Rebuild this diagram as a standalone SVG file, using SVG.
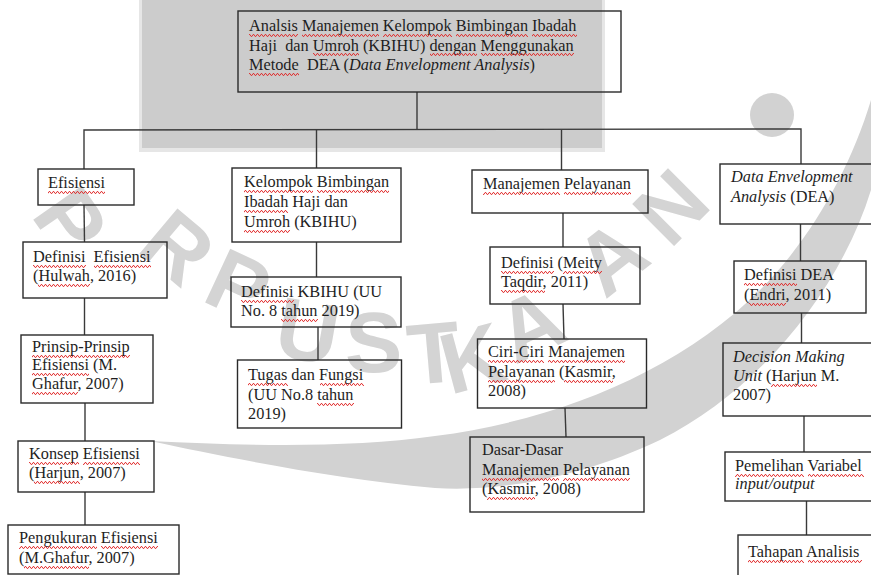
<svg xmlns="http://www.w3.org/2000/svg" width="871" height="575" viewBox="0 0 871 575">
<defs>
<pattern id="wavy" patternUnits="userSpaceOnUse" x="0" y="0" width="4" height="3">
<path d="M0,2.4 L1,0.6 L2,0.6 L3,2.4 L4,2.4" fill="none" stroke="#e02525" stroke-width="0.9"/>
</pattern>
</defs>
<style>
.box{fill:none;stroke:#2a2a2a;stroke-width:1.4}
.ln{fill:none;stroke:#3a3a3a;stroke-width:1.4}
.t{font-family:"Liberation Serif","Times New Roman",serif;font-size:16.3px;fill:#1e1e1e;white-space:pre}
.i{font-style:italic}
.sq{fill:url(#wavy)}
.wm{fill:#d2d2d2}
.wt{font-family:"Liberation Sans",Arial,sans-serif;font-weight:bold;font-size:86px;fill:#d4d4d4}
</style>
<rect x="0" y="0" width="871" height="575" fill="#ffffff"/>
<g id="watermark">
<path class="wm" d="M150,441 C250,446 350,448 435,436 C560,420 680,370 760,290 C810,240 850,170 871,100 L871,190 C840,290 760,390 660,440 C580,478 500,492 435,488 C330,478 230,458 150,441 Z"/>
<circle class="wm" cx="772" cy="115" r="22"/>
<text class="wt" transform="translate(30,215) rotate(55)">P</text>
<text class="wt" transform="translate(135,250) rotate(40)">R</text>
<text class="wt" transform="translate(200,300) rotate(25)">P</text>
<text class="wt" transform="translate(272,355) rotate(10)">U</text>
<text class="wt" transform="translate(345,372) rotate(0)">S</text>
<text class="wt" transform="translate(410,385) rotate(-5)">T</text>
<text class="wt" transform="translate(450,395) rotate(-15)">K</text>
<text class="wt" transform="translate(515,365) rotate(-25)">A</text>
<text class="wt" transform="translate(605,300) rotate(-38)">A</text>
<text class="wt" transform="translate(670,250) rotate(-45)">N</text>
</g>
<rect x="139" y="0" width="466" height="152" fill="#e6e6e6"/>
<rect x="142" y="0" width="460" height="148" fill="#cccccc"/>
<g id="connectors">
<line class="ln" x1="417" y1="92" x2="417" y2="130"/>
<polyline class="ln" points="84,169 84,130 801,129 801,164"/>
<line class="ln" x1="316.5" y1="130" x2="316.5" y2="168"/>
<line class="ln" x1="561.5" y1="130" x2="561.5" y2="170"/>
<line class="ln" x1="84" y1="205" x2="84.5" y2="242"/>
<line class="ln" x1="84.5" y1="298" x2="84.5" y2="335"/>
<line class="ln" x1="85" y1="403" x2="85" y2="441"/>
<line class="ln" x1="85" y1="492" x2="85" y2="525"/>
<line class="ln" x1="316.5" y1="242" x2="316.5" y2="277"/>
<line class="ln" x1="318" y1="327" x2="318" y2="360"/>
<line class="ln" x1="563" y1="213" x2="563" y2="247"/>
<line class="ln" x1="563" y1="304" x2="564" y2="339"/>
<line class="ln" x1="565" y1="408" x2="566" y2="437"/>
<line class="ln" x1="800.5" y1="224" x2="800.5" y2="261"/>
<line class="ln" x1="801.5" y1="313" x2="801.5" y2="343"/>
<line class="ln" x1="804" y1="416" x2="804" y2="452"/>
<line class="ln" x1="806.5" y1="501" x2="806.5" y2="535"/>
</g>
<g id="n-top">
<rect class="box" x="238" y="11" width="383" height="81"/>
<text class="t" x="249" y="31"><tspan>Analsis</tspan> <tspan>Manajemen</tspan> <tspan>Kelompok</tspan> <tspan>Bimbingan</tspan> <tspan>Ibadah</tspan></text>
<text class="t" x="249" y="50.5">Haji  dan <tspan>Umroh</tspan> (KBIHU) <tspan>dengan</tspan> <tspan>Menggunakan</tspan></text>
<text class="t" x="249" y="70"><tspan>Metode</tspan>  DEA (<tspan class="i">Data Envelopment Analysis</tspan>)</text>
<g transform="translate(0,34)"><rect class="sq" x="249" width="49" height="3"/><rect class="sq" x="302" width="77" height="3"/><rect class="sq" x="383" width="69" height="3"/><rect class="sq" x="456" width="72" height="3"/><rect class="sq" x="532" width="45" height="3"/></g>
<g transform="translate(0,53)"><rect class="sq" x="313" width="46" height="3"/><rect class="sq" x="430" width="47" height="3"/><rect class="sq" x="481" width="93" height="3"/></g>
<g transform="translate(0,73)"><rect class="sq" x="249" width="50" height="3"/></g>
</g>
<g id="n-efisiensi">
<rect class="box" x="38" y="169" width="96" height="36"/>
<text class="t" x="48" y="188"><tspan>Efisiensi</tspan></text>
<g transform="translate(0,191)"><rect class="sq" x="48" width="57" height="3"/></g>
</g>
<g id="n-def-efisiensi">
<rect class="box" x="23" y="242" width="144" height="56"/>
<text class="t" x="33" y="262"><tspan>Definisi</tspan>  <tspan>Efisiensi</tspan></text>
<text class="t" x="33" y="281">(<tspan>Hulwah</tspan>, 2016)</text>
<g transform="translate(0,265)"><rect class="sq" x="33" width="53" height="3"/><rect class="sq" x="94" width="57" height="3"/></g>
<g transform="translate(0,284)"><rect class="sq" x="38" width="52" height="3"/></g>
</g>
<g id="n-prinsip">
<rect class="box" x="21" y="335" width="132" height="68"/>
<text class="t" x="32" y="352"><tspan>Prinsip-Prinsip</tspan></text>
<text class="t" x="32" y="370"><tspan>Efisiensi</tspan> (M.</text>
<text class="t" x="32" y="389"><tspan>Ghafur</tspan>, 2007)</text>
<g transform="translate(0,355)"><rect class="sq" x="32" width="98" height="3"/></g>
<g transform="translate(0,373)"><rect class="sq" x="32" width="57" height="3"/></g>
<g transform="translate(0,392)"><rect class="sq" x="32" width="46" height="3"/></g>
</g>
<g id="n-konsep">
<rect class="box" x="18" y="441" width="136" height="51"/>
<text class="t" x="29" y="459"><tspan>Konsep</tspan> <tspan>Efisiensi</tspan></text>
<text class="t" x="29" y="478">(<tspan>Harjun</tspan>, 2007)</text>
<g transform="translate(0,462)"><rect class="sq" x="29" width="50" height="3"/><rect class="sq" x="83" width="57" height="3"/></g>
<g transform="translate(0,481)"><rect class="sq" x="34" width="46" height="3"/></g>
</g>
<g id="n-pengukuran">
<rect class="box" x="8" y="525" width="171" height="49"/>
<text class="t" x="19" y="543"><tspan>Pengukuran</tspan> <tspan>Efisiensi</tspan></text>
<text class="t" x="19" y="563">(<tspan>M.Ghafur</tspan>, 2007)</text>
<g transform="translate(0,546)"><rect class="sq" x="19" width="78" height="3"/><rect class="sq" x="101" width="57" height="3"/></g>
<g transform="translate(0,566)"><rect class="sq" x="24" width="65" height="3"/></g>
</g>
<g id="n-kbihu">
<rect class="box" x="232" y="168" width="169" height="74"/>
<text class="t" x="244" y="187"><tspan>Kelompok</tspan> <tspan>Bimbingan</tspan></text>
<text class="t" x="244" y="207"><tspan>Ibadah</tspan> Haji dan</text>
<text class="t" x="244" y="227"><tspan>Umroh</tspan> (KBIHU)</text>
<g transform="translate(0,190)"><rect class="sq" x="244" width="69" height="3"/><rect class="sq" x="317" width="72" height="3"/></g>
<g transform="translate(0,210)"><rect class="sq" x="244" width="44" height="3"/></g>
<g transform="translate(0,230)"><rect class="sq" x="244" width="46" height="3"/></g>
</g>
<g id="n-def-kbihu">
<rect class="box" x="231" y="277" width="170" height="50"/>
<text class="t" x="241" y="297"><tspan>Definisi</tspan> KBIHU (UU</text>
<text class="t" x="241" y="316">No. 8 <tspan>tahun</tspan> 2019)</text>
<g transform="translate(0,300)"><rect class="sq" x="241" width="53" height="3"/></g>
<g transform="translate(0,319)"><rect class="sq" x="281" width="37" height="3"/></g>
</g>
<g id="n-tugas">
<rect class="box" x="237.5" y="360" width="164" height="68"/>
<text class="t" x="248" y="380"><tspan>Tugas</tspan> dan <tspan>Fungsi</tspan></text>
<text class="t" x="248" y="400">(UU No.8 <tspan>tahun</tspan></text>
<text class="t" x="248" y="419">2019)</text>
<g transform="translate(0,383)"><rect class="sq" x="248" width="40" height="3"/><rect class="sq" x="320" width="44" height="3"/></g>
<g transform="translate(0,403)"><rect class="sq" x="317" width="37" height="3"/></g>
</g>
<g id="n-manajemen">
<rect class="box" x="472" y="170" width="176" height="43"/>
<text class="t" x="483" y="189"><tspan>Manajemen</tspan> <tspan>Pelayanan</tspan></text>
<g transform="translate(0,192)"><rect class="sq" x="483" width="77" height="3"/><rect class="sq" x="564" width="67" height="3"/></g>
</g>
<g id="n-def-meity">
<rect class="box" x="490" y="247" width="150" height="57"/>
<text class="t" x="501" y="268"><tspan>Definisi</tspan> (<tspan>Meity</tspan></text>
<text class="t" x="501" y="287"><tspan>Taqdir</tspan>, 2011)</text>
<g transform="translate(0,271)"><rect class="sq" x="501" width="53" height="3"/><rect class="sq" x="563" width="39" height="3"/></g>
<g transform="translate(0,290)"><rect class="sq" x="501" width="44" height="3"/></g>
</g>
<g id="n-ciri">
<rect class="box" x="477.5" y="339" width="169" height="69"/>
<text class="t" x="488" y="357"><tspan>Ciri-Ciri</tspan> <tspan>Manajemen</tspan></text>
<text class="t" x="488" y="377"><tspan>Pelayanan</tspan> (<tspan>Kasmir</tspan>,</text>
<text class="t" x="488" y="396">2008)</text>
<g transform="translate(0,360)"><rect class="sq" x="488" width="56" height="3"/><rect class="sq" x="548" width="77" height="3"/></g>
<g transform="translate(0,380)"><rect class="sq" x="488" width="67" height="3"/><rect class="sq" x="564" width="49" height="3"/></g>
</g>
<g id="n-dasar">
<rect class="box" x="470" y="437" width="174" height="75"/>
<text class="t" x="482" y="455">Dasar-Dasar</text>
<text class="t" x="482" y="475"><tspan>Manajemen</tspan> <tspan>Pelayanan</tspan></text>
<text class="t" x="482" y="494">(<tspan>Kasmir</tspan>, 2008)</text>
<g transform="translate(0,478)"><rect class="sq" x="482" width="77" height="3"/><rect class="sq" x="563" width="67" height="3"/></g>
<g transform="translate(0,497)"><rect class="sq" x="487" width="48" height="3"/></g>
</g>
<g id="n-dea">
<rect class="box" x="720" y="164" width="160" height="60"/>
<text class="t i" x="731" y="182">Data Envelopment</text>
<text class="t" x="731" y="202"><tspan class="i">Analysis</tspan> (DEA)</text>
</g>
<g id="n-def-dea">
<rect class="box" x="734" y="261" width="132" height="52"/>
<text class="t" x="744" y="280"><tspan>Definisi</tspan> DEA</text>
<text class="t" x="744" y="300">(<tspan>Endri</tspan>, 2011)</text>
<g transform="translate(0,283)"><rect class="sq" x="744" width="53" height="3"/></g>
<g transform="translate(0,303)"><rect class="sq" x="749" width="37" height="3"/></g>
</g>
<g id="n-dmu">
<rect class="box" x="723" y="343" width="160" height="73"/>
<text class="t i" x="733" y="362">Decision Making</text>
<text class="t" x="733" y="381"><tspan class="i">Unit</tspan> (<tspan>Harjun</tspan> M.</text>
<text class="t" x="733" y="400">2007)</text>
<g transform="translate(0,384)"><rect class="sq" x="771" width="46" height="3"/></g>
</g>
<g id="n-variabel">
<rect class="box" x="725" y="452" width="160" height="49"/>
<text class="t" x="735" y="471"><tspan>Pemelihan</tspan> <tspan>Variabel</tspan></text>
<text class="t i" x="735" y="489">input/output</text>
<g transform="translate(0,474)"><rect class="sq" x="735" width="69" height="3"/><rect class="sq" x="808" width="56" height="3"/></g>
</g>
<g id="n-tahapan">
<rect class="box" x="738" y="535" width="150" height="60"/>
<text class="t" x="748" y="557"><tspan>Tahapan</tspan> <tspan>Analisis</tspan></text>
<g transform="translate(0,560)"><rect class="sq" x="748" width="56" height="3"/><rect class="sq" x="808" width="54" height="3"/></g>
</g>
</svg>
